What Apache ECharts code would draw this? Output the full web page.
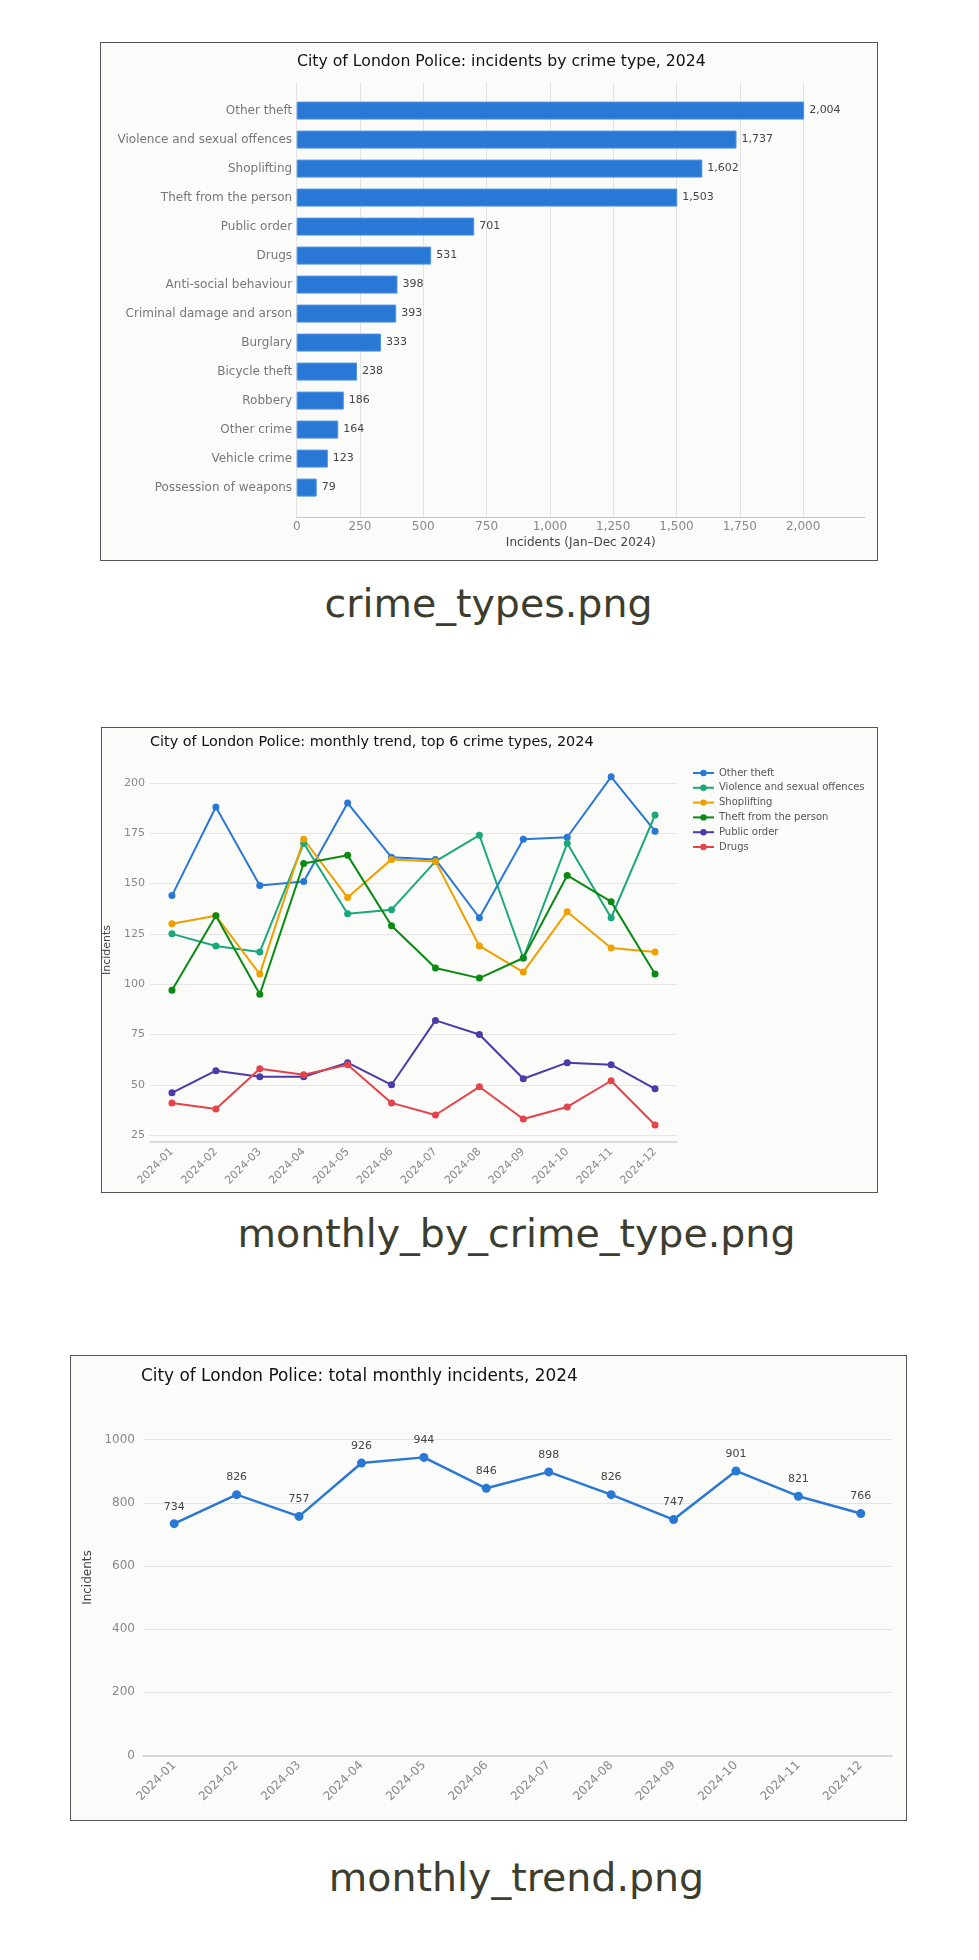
<!DOCTYPE html>
<html>
<head>
<meta charset="utf-8">
<script src="https://cdn.jsdelivr.net/npm/echarts@6/dist/echarts.min.js"></script>
<style>
  html, body { margin: 0; padding: 0; background: #ffffff; }
  body { width: 979px; height: 1960px; position: relative; overflow: hidden; }
  .frame { position: absolute; box-sizing: border-box; border: 1px solid #555; background: #fbfbf9; }
  .caption { position: absolute; width: 979px; text-align: center; font-family: "DejaVu Sans", sans-serif;
             font-size: 39.5px; line-height: 39px; color: #3c3d2e; white-space: nowrap; }
  #chart { position: absolute; left: 0; top: 0; width: 979px; height: 1960px; z-index: 2; }
</style>
</head>
<body>
<div class="frame" style="left:100px;top:42px;width:778px;height:519px;"></div>
<div class="frame" style="left:101px;top:727px;width:777px;height:466px;"></div>
<div class="frame" style="left:70px;top:1355px;width:837px;height:466px;"></div>
<div class="caption" style="left:-1px;top:584px;">crime_types.png</div>
<div class="caption" style="left:27px;top:1214px;">monthly_by_crime_type.png</div>
<div class="caption" style="left:27px;top:1858px;">monthly_trend.png</div>
<div id="chart"></div>
<script>
// ---- data ----
const crimeTypes = ['Other theft', 'Violence and sexual offences', 'Shoplifting', 'Theft from the person',
  'Public order', 'Drugs', 'Anti-social behaviour', 'Criminal damage and arson', 'Burglary',
  'Bicycle theft', 'Robbery', 'Other crime', 'Vehicle crime', 'Possession of weapons'];
const crimeCounts = [2004, 1737, 1602, 1503, 701, 531, 398, 393, 333, 238, 186, 164, 123, 79];

const months = ['2024-01', '2024-02', '2024-03', '2024-04', '2024-05', '2024-06',
  '2024-07', '2024-08', '2024-09', '2024-10', '2024-11', '2024-12'];

const otherTheft = [144, 188, 149, 151, 190, 163, 162, 133, 172, 173, 203, 176];
const violence = [125, 119, 116, 170, 135, 137, 161, 174, 113, 170, 133, 184];
const shoplifting = [130, 134, 105, 172, 143, 162, 161, 119, 106, 136, 118, 116];
const theftPerson = [97, 134, 95, 160, 164, 129, 108, 103, 113, 154, 141, 105];
const publicOrder = [46, 57, 54, 54, 61, 50, 82, 75, 53, 61, 60, 48];
const drugs = [41, 38, 58, 55, 60, 41, 35, 49, 33, 39, 52, 30];

const monthlyTotals = [734, 826, 757, 926, 944, 846, 898, 826, 747, 901, 821, 766];

const barTicks = [0, 250, 500, 750, 1000, 1250, 1500, 1750, 2000];
const trendTicks = [25, 50, 75, 100, 125, 150, 175, 200];
const totalTicks = [0, 200, 400, 600, 800, 1000];

// ---- styles ----
const FONT = 'DejaVu Sans';
const topSeries = [
  { name: 'Other theft', data: otherTheft, color: '#2a78d6' },
  { name: 'Violence and sexual offences', data: violence, color: '#1ba77c' },
  { name: 'Shoplifting', data: shoplifting, color: '#eea000' },
  { name: 'Theft from the person', data: theftPerson, color: '#0a8a12' },
  { name: 'Public order', data: publicOrder, color: '#4b3aa8' },
  { name: 'Drugs', data: drugs, color: '#e5434b' }
];
const fmt = v => Number(v).toLocaleString('en-US');

const chart = echarts.init(document.getElementById('chart'), null, { renderer: 'canvas' });

const option = {
  backgroundColor: 'transparent',
  animation: false,
  textStyle: { fontFamily: FONT },
  title: [
    { text: 'City of London Police: incidents by crime type, 2024', left: 297, top: 54, padding: 0,
      textStyle: { fontFamily: FONT, fontSize: 15.7, lineHeight: 16, fontWeight: 'normal', color: '#111' } },
    { text: 'City of London Police: monthly trend, top 6 crime types, 2024', left: 150, top: 734.5, padding: 0,
      textStyle: { fontFamily: FONT, fontSize: 14.4, lineHeight: 15, fontWeight: 'normal', color: '#111' } },
    { text: 'City of London Police: total monthly incidents, 2024', left: 141, top: 1368, padding: 0,
      textStyle: { fontFamily: FONT, fontSize: 16.9, lineHeight: 17, fontWeight: 'normal', color: '#111' } }
  ],
  legend: {
    orient: 'vertical', left: 692, top: 767, padding: 0,
    itemWidth: 21, itemHeight: 8, itemGap: 2.8,
    data: topSeries.map(s => s.name),
    textStyle: { fontFamily: FONT, fontSize: 10, lineHeight: 12, color: '#555' }
  },
  grid: [
    { left: 296.7, top: 82, width: 568.2, height: 435, containLabel: false },
    { left: 296.7, top: 96.1, width: 568.2, height: 406, containLabel: false },
    { left: 150, top: 782.9, width: 527, height: 352.2, containLabel: false },
    { left: 143, top: 1439.7, width: 749, height: 315.7, containLabel: false }
  ],
  xAxis: [
    { gridIndex: 0, type: 'value', min: barTicks[0], max: 2244, interval: barTicks[1] - barTicks[0],
      axisLine: { show: true, lineStyle: { color: '#c4c4c4', width: 1 } },
      axisTick: { show: false },
      splitLine: { show: true, showMaxLine: false, lineStyle: { color: '#e3e3e3', width: 1 } },
      axisLabel: { showMaxLabel: false, fontSize: 12, color: '#888', margin: 4, formatter: fmt, fontFamily: FONT },
      name: 'Incidents (Jan–Dec 2024)', nameLocation: 'middle', nameGap: 20,
      nameTextStyle: { fontSize: 12, color: '#444', fontFamily: FONT } },
    { gridIndex: 1, type: 'value', min: 0, max: 2244, show: false, splitLine: { show: false } },
    { gridIndex: 2, type: 'category', data: months, boundaryGap: true, offset: 7,
      axisLine: { show: true, lineStyle: { color: '#cfcfcf', width: 1.5 } },
      axisTick: { show: false },
      axisLabel: { interval: 0, rotate: 45, fontSize: 11, color: '#888', margin: 8, fontFamily: FONT } },
    { gridIndex: 3, type: 'category', data: months, boundaryGap: true,
      axisLine: { show: true, lineStyle: { color: '#cfcfcf', width: 1.5 } },
      axisTick: { show: false },
      axisLabel: { interval: 0, rotate: 45, fontSize: 12, color: '#888', margin: 8, fontFamily: FONT } }
  ],
  yAxis: [
    { gridIndex: 0, type: 'value', min: 0, max: 1, show: false, splitLine: { show: false } },
    { gridIndex: 1, type: 'category', data: crimeTypes, inverse: true,
      axisLine: { show: false }, axisTick: { show: false }, splitLine: { show: false },
      axisLabel: { fontSize: 12, color: '#777', margin: 4.6, fontFamily: FONT } },
    { gridIndex: 2, type: 'value', min: trendTicks[0], max: trendTicks[trendTicks.length - 1],
      interval: trendTicks[1] - trendTicks[0],
      axisLine: { show: false }, axisTick: { show: false },
      splitLine: { show: true, lineStyle: { color: '#e6e6e6', width: 1 } },
      axisLabel: { fontSize: 11, color: '#888', margin: 5, fontFamily: FONT },
      name: 'Incidents', nameLocation: 'middle', nameGap: 25,
      nameTextStyle: { fontSize: 11, color: '#444', fontFamily: FONT, padding: [0, 0, 0, 18] } },
    { gridIndex: 3, type: 'value', min: totalTicks[0], max: totalTicks[totalTicks.length - 1],
      interval: totalTicks[1] - totalTicks[0],
      axisLine: { show: false }, axisTick: { show: false },
      splitLine: { show: true, lineStyle: { color: '#e3e3e3', width: 1 } },
      axisLabel: { fontSize: 12, color: '#888', margin: 8, fontFamily: FONT, formatter: v => String(v) },
      name: 'Incidents', nameLocation: 'middle', nameGap: 38,
      nameTextStyle: { fontSize: 12, color: '#444', fontFamily: FONT, padding: [0, 0, 0, 40] } }
  ],
  series: [
    { type: 'bar', xAxisIndex: 1, yAxisIndex: 1, data: crimeCounts, barWidth: 18,
      itemStyle: { color: '#2a78d6', borderColor: '#4f93e2', borderWidth: 1 },
      label: { show: true, position: 'right', distance: 5, fontSize: 11, color: '#444',
               fontFamily: FONT, formatter: p => fmt(p.value) } },
    ...topSeries.map(s => ({
      type: 'line', name: s.name, xAxisIndex: 2, yAxisIndex: 2, data: s.data, clip: false,
      symbol: 'circle', symbolSize: 7, showSymbol: true,
      lineStyle: { color: s.color, width: 2 }, itemStyle: { color: s.color }
    })),
    { type: 'line', name: 'Total', xAxisIndex: 3, yAxisIndex: 3, data: monthlyTotals, clip: false,
      symbol: 'circle', symbolSize: 9,
      lineStyle: { color: '#2a78d6', width: 2.5 }, itemStyle: { color: '#2a78d6' },
      label: { show: true, position: 'top', distance: 7, fontSize: 11, color: '#444', fontFamily: FONT } }
  ]
};
chart.setOption(option);
</script>
</body>
</html>
